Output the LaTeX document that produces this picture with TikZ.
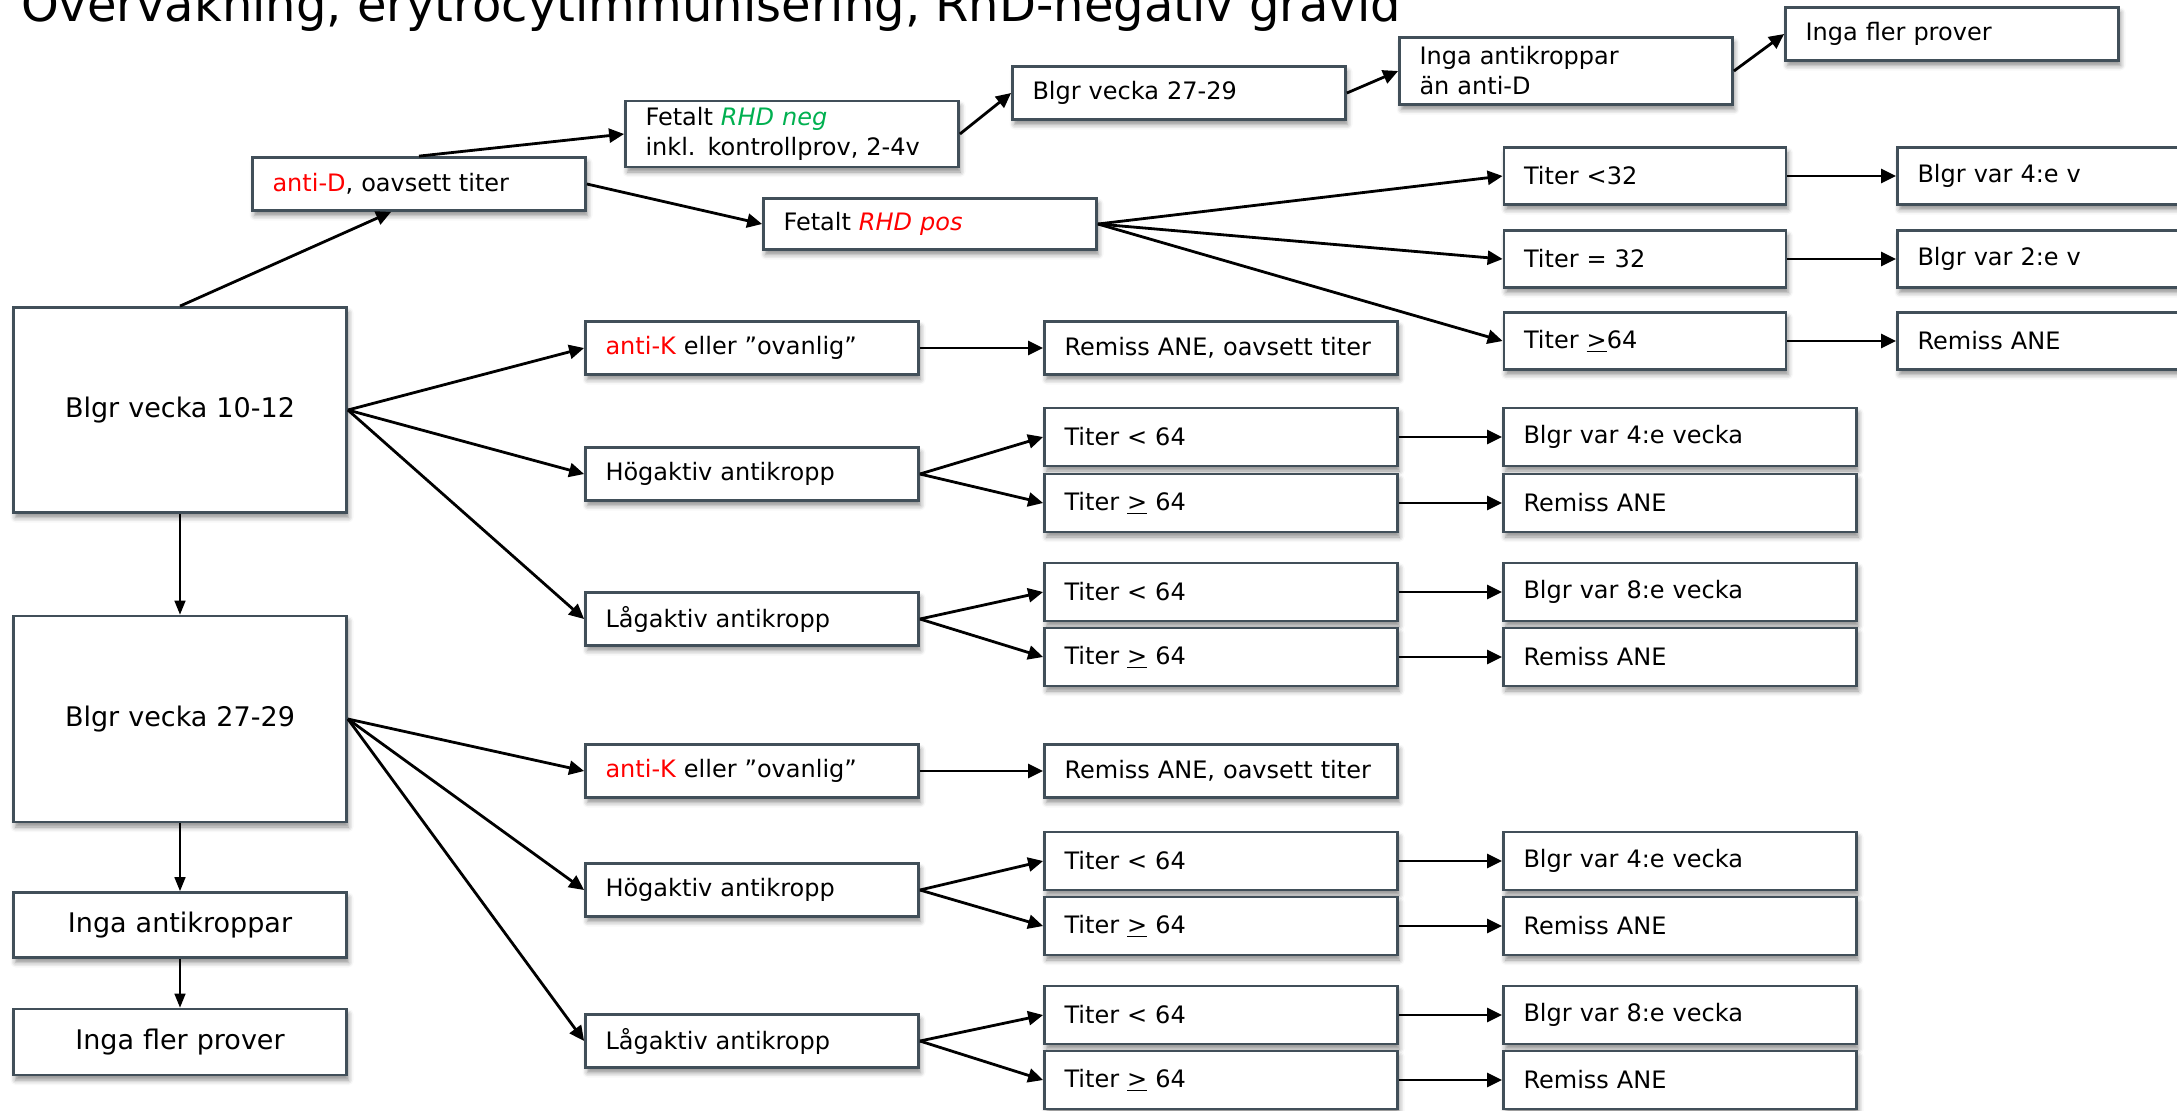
\documentclass[tikz,border=0pt]{standalone}
\usepackage{fontspec}
\setmainfont{DejaVu Sans}
\usepackage{xcolor}
\usepackage{tikz}
\usetikzlibrary{arrows.meta,shadows.blur}
\definecolor{kant}{HTML}{414F59}
\definecolor{gron}{HTML}{00B050}
\def\rod#1{\textcolor{red}{#1}}
\newcommand{\minst}{\underline{>}}

\begin{document}
\begin{tikzpicture}[x=0.5pt,y=-0.5pt]
    \tikzstyle{ruta}=[draw=kant,line width=1.4pt,fill=white,
      blur shadow={shadow xshift=1pt,shadow yshift=-2.5pt,shadow blur radius=2.5pt,shadow opacity=45},
      inner xsep=10pt,inner ysep=2pt,align=left,font=\fontsize{12}{15}\selectfont]
    \tikzstyle{vanster}=[ruta,text width=146.5pt,align=center,font=\fontsize{13.5}{16}\selectfont]
    \tikzstyle{mellan}=[ruta,text width=146.5pt,minimum height=26.5pt]
    \tikzstyle{bred}=[ruta,text width=156.5pt,minimum height=29pt]
    \tikzstyle{titer}=[ruta,text width=121pt,minimum height=28.5pt]
    \tikzstyle{pil}=[-{Triangle[length=7.5pt,width=7pt]},line width=1.4pt]
    \tikzstyle{tunn}=[-{Triangle[length=7pt,width=5.5pt]},line width=0.8pt]
    \useasboundingbox (0,0) rectangle (2177,1110);

    \node[anchor=base west,font=\fontsize{24}{28}\selectfont] (titel) at (14,21)
      {Övervakning, erytrocytimmunisering, RhD-negativ gravid};

    % vänster kolumn
    \node[vanster,minimum height=102.5pt] (tio) at (180,410) {Blgr vecka 10-12};
    \node[vanster,minimum height=103pt] (tjugo) at (180,719) {Blgr vecka 27-29};
    \node[vanster,minimum height=32.5pt] (ingaAK) at (180,925) {Inga antikroppar};
    \node[vanster,minimum height=33pt] (ingaFler) at (180,1042) {Inga fler prover};

    % anti-D
    \node[mellan] (antiD) at (419,184) {\rod{anti-D}, oavsett titer};
    \node[mellan,minimum height=33pt] (rhdNeg) at (792,134)
      {Fetalt \textcolor{gron}{\textit{RHD neg}}\\inkl. kontrollprov, 2-4v};
    \node[mellan,minimum height=25.5pt] (rhdPos) at (930,224) {Fetalt \rod{\textit{RHD pos}}};
    \node[mellan] (blgrTop) at (1179,93) {Blgr vecka 27-29};
    \node[mellan,minimum height=33.5pt] (ingaAKD) at (1566,71) {Inga antikroppar\\än anti-D};
    \node[mellan] (ingaFlerTop) at (1952,34) {Inga fler prover};
    \node[titer] (t32a) at (1645,176) {Titer <32};
    \node[titer] (t32b) at (1645,259) {Titer = 32};
    \node[titer] (t64) at (1645,341) {Titer \minst64};
    \node[mellan,minimum height=28.5pt] (t32ar) at (2064,176) {Blgr var 4:e v};
    \node[mellan,minimum height=28.5pt] (t32br) at (2064,259) {Blgr var 2:e v};
    \node[mellan,minimum height=28.5pt] (t64r) at (2064,341) {Remiss ANE};

    % vecka 10-12
    \node[mellan] (antiKA) at (752,348) {\rod{anti-K} eller ”ovanlig”};
    \node[mellan] (hogA) at (752,474) {Högaktiv antikropp};
    \node[mellan] (lagA) at (752,619) {Lågaktiv antikropp};
    \node[bred,minimum height=26.5pt] (remA) at (1221,348) {Remiss ANE, oavsett titer};
    \node[bred] (hogA1) at (1221,437) {Titer < 64};
    \node[bred] (hogA2) at (1221,503) {Titer \minst{} 64};
    \node[bred] (lagA1) at (1221,592) {Titer < 64};
    \node[bred] (lagA2) at (1221,657) {Titer \minst{} 64};
    \node[bred] (hogA1r) at (1680,437) {Blgr var 4:e vecka};
    \node[bred] (hogA2r) at (1680,503) {Remiss ANE};
    \node[bred] (lagA1r) at (1680,592) {Blgr var 8:e vecka};
    \node[bred] (lagA2r) at (1680,657) {Remiss ANE};

    % vecka 27-29
    \node[mellan] (antiKB) at (752,771) {\rod{anti-K} eller ”ovanlig”};
    \node[mellan] (hogB) at (752,890) {Högaktiv antikropp};
    \node[mellan] (lagB) at (752,1041) {Lågaktiv antikropp};
    \node[bred,minimum height=26.5pt] (remB) at (1221,771) {Remiss ANE, oavsett titer};
    \node[bred] (hogB1) at (1221,861) {Titer < 64};
    \node[bred] (hogB2) at (1221,926) {Titer \minst{} 64};
    \node[bred] (lagB1) at (1221,1015) {Titer < 64};
    \node[bred] (lagB2) at (1221,1080) {Titer \minst{} 64};
    \node[bred] (hogB1r) at (1680,861) {Blgr var 4:e vecka};
    \node[bred] (hogB2r) at (1680,926) {Remiss ANE};
    \node[bred] (lagB1r) at (1680,1015) {Blgr var 8:e vecka};
    \node[bred] (lagB2r) at (1680,1080) {Remiss ANE};

    \draw[tunn] (tio.south) -- (tjugo.north);
    \draw[tunn] (tjugo.south) -- (ingaAK.north);
    \draw[tunn] (ingaAK.south) -- (ingaFler.north);

    \draw[pil] (tio.north) -- (antiD.-135);
    \draw[pil] (antiD.north) -- (rhdNeg.west);
    \draw[pil] (antiD.east) -- (rhdPos.west);
    \draw[pil] (rhdNeg.east) -- (blgrTop.west);
    \draw[pil] (blgrTop.east) -- (ingaAKD.west);
    \draw[pil] (ingaAKD.east) -- (ingaFlerTop.west);
    \draw[pil] (rhdPos.east) -- (t32a.west);
    \draw[pil] (rhdPos.east) -- (t32b.west);
    \draw[pil] (rhdPos.east) -- (t64.west);
    \draw[pil] (t32a) -- (t32ar);
    \draw[pil] (t32b) -- (t32br);
    \draw[pil] (t64) -- (t64r);

    \draw[pil] (tio.east) -- (antiKA.west);
    \draw[pil] (tio.east) -- (hogA.west);
    \draw[pil] (tio.east) -- (lagA.west);
    \draw[pil] (antiKA) -- (remA);
    \draw[pil] (hogA.east) -- (hogA1.west);
    \draw[pil] (hogA.east) -- (hogA2.west);
    \draw[pil] (lagA.east) -- (lagA1.west);
    \draw[pil] (lagA.east) -- (lagA2.west);
    \draw[pil] (hogA1) -- (hogA1r);
    \draw[pil] (hogA2) -- (hogA2r);
    \draw[pil] (lagA1) -- (lagA1r);
    \draw[pil] (lagA2) -- (lagA2r);

    \draw[pil] (tjugo.east) -- (antiKB.west);
    \draw[pil] (tjugo.east) -- (hogB.west);
    \draw[pil] (tjugo.east) -- (lagB.west);
    \draw[pil] (antiKB) -- (remB);
    \draw[pil] (hogB.east) -- (hogB1.west);
    \draw[pil] (hogB.east) -- (hogB2.west);
    \draw[pil] (lagB.east) -- (lagB1.west);
    \draw[pil] (lagB.east) -- (lagB2.west);
    \draw[pil] (hogB1) -- (hogB1r);
    \draw[pil] (hogB2) -- (hogB2r);
    \draw[pil] (lagB1) -- (lagB1r);
    \draw[pil] (lagB2) -- (lagB2r);
\end{tikzpicture}
\end{document}
